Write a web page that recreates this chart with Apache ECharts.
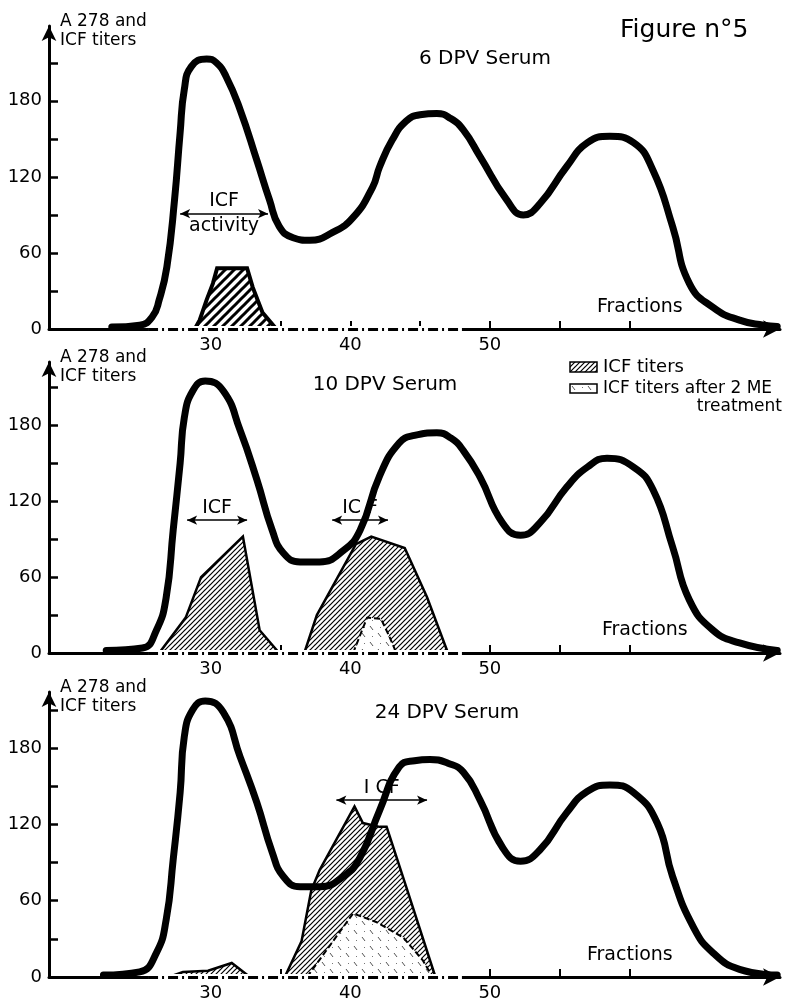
<!DOCTYPE html>
<html>
<head>
<meta charset="utf-8">
<script src="https://cdn.jsdelivr.net/npm/echarts@6/dist/echarts.min.js"></script>
<style>
  html, body { margin: 0; padding: 0; background: #fff; }
  #chart { width: 791px; height: 1002px; }
</style>
</head>
<body>
<div id="chart"></div>
<script>
// ---- axes ----
const fractionMin = 18.4;
const fractionMax = 70.8;
const fractionTicks = [30, 35, 40, 45, 50, 55, 60];
const fractionLabels = [30, 40, 50];
const titerTicks = [0, 30, 60, 90, 120, 150, 180, 210];
const titerLabels = [0, 60, 120, 180];
const titerMax = [239, 230, 224];
// fractions where ICF was assayed (drawn dash-dot on the baseline)
const icfTestedRange = [25.5, 48];

const panelTitles = ['6 DPV Serum', '10 DPV Serum', '24 DPV Serum'];

// ---- A 278 elution profiles [fraction, value] ----
const a278Day6 = [[22.9,1.5],[24.9,3],[25.8,9.5],[26.3,23],[26.85,49],[27.4,102],[27.8,155],[28.1,189],[28.6,207],[29.7,213],[30.4,210],[31.1,199],[32.1,173],[33.3,133],[34.2,102],[34.9,81],[35.9,72],[37.1,70],[38.7,76],[40.2,88],[41.6,112],[42.1,128],[43.0,149],[44.0,164],[45.0,169],[46.2,170],[47.2,166],[48.1,157],[49.3,136],[51.2,102],[52.4,90],[53.6,99],[55.5,128],[57.0,147],[58.6,152],[60.3,147],[61.7,125],[63.1,81],[64.3,36],[66.0,17],[67.9,7],[69.6,3],[70.6,2]];
const a278Day10 = [[22.5,2],[25.1,4],[26.1,18],[26.8,44],[27.3,97],[27.8,150],[28.1,186],[28.7,207],[29.6,215],[30.9,207],[32.1,176],[33.3,137],[34.4,97],[35.2,79],[36.4,72],[37.8,72],[39.5,81],[40.7,97],[42.1,140],[43.5,166],[44.6,172],[46.2,174],[47.2,170],[48.1,160],[49.3,139],[50.9,103],[52.2,93],[53.6,103],[55.5,131],[57.0,147],[58.4,154],[60.3,147],[61.7,129],[63.1,84],[64.3,42],[66.0,18],[67.9,8],[70.6,2]];
const a278Day24 = [[22.3,1.5],[24.9,4],[26.1,19],[26.8,45],[27.3,92],[27.8,145],[28.1,189],[28.7,210],[29.6,217],[30.9,208],[32.1,173],[33.3,137],[34.4,98],[35.2,79],[36.4,71],[37.8,71],[39.5,79],[40.7,94],[42.1,131],[43.5,165],[44.6,170],[45.7,171],[47.0,168],[48.1,161],[49.3,139],[50.9,102],[52.2,91],[53.6,100],[55.5,129],[57.0,146],[58.6,151],[60.3,145],[62.0,121],[63.1,79],[64.6,39],[66.0,19],[67.9,6],[70.6,1.5]];

// ---- ICF titers ----
const icfDay6 = [[28.85,0],[29.2,7],[29.7,23],[30.15,36],[30.45,48],[32.6,48],[33.0,33],[33.7,13],[34.7,0]];
const icfDay10 = [[26.3,0],[28.2,28],[29.3,60],[32.3,92],[33.5,18],[34.9,0],[35.8,'-'],[36.7,0],[37.6,30],[40.4,86],[41.5,92],[43.9,83],[45.5,44],[47.0,0]];
const icfDay24 = [[27.0,0],[28.0,4],[29.8,5],[31.5,11],[32.8,0],[34.0,'-'],[35.3,0],[36.5,28],[37.2,68],[37.8,84],[40.3,134],[40.9,121],[42.1,118],[42.6,118],[44.0,71],[46.1,0]];

// ---- ICF titers after 2 ME treatment ----
const icfMeDay10 = [[40.2,0],[41.2,28],[42.2,27],[42.8,13],[43.3,0]];
const icfMeDay24 = [[36.9,0],[40.2,50],[41.9,43],[43.8,31],[45.2,13],[45.9,0]];

// ---- ICF activity ranges [from, to, level, label above, label below] ----
const icfRangesDay6 = [[27.8, 34.1, 91, 'ICF', 'activity']];
const icfRangesDay10 = [[28.3, 32.6, 105, 'ICF', ''], [38.7, 42.7, 105, 'IC F', '']];
const icfRangesDay24 = [[39.0, 45.5, 139, 'I CF', '']];

const FONT = "'DejaVu Sans', sans-serif";

// diagonal hatch fill
function hatch(size, width) {
  const c = document.createElement('canvas');
  c.width = size; c.height = size;
  const g = c.getContext('2d');
  g.fillStyle = '#fff';
  g.fillRect(0, 0, size, size);
  g.strokeStyle = '#000';
  g.lineWidth = width;
  g.lineCap = 'square';
  for (let k = -1; k <= 1; k++) {
    g.beginPath();
    g.moveTo(k * size, size);
    g.lineTo(k * size + size, 0);
    g.stroke();
  }
  return { image: c, repeat: 'repeat' };
}
// sparse stipple fill
function stipple() {
  const s = 16;
  const c = document.createElement('canvas');
  c.width = s; c.height = s;
  const g = c.getContext('2d');
  g.fillStyle = '#fff';
  g.fillRect(0, 0, s, s);
  g.strokeStyle = '#555';
  g.lineWidth = 1;
  g.beginPath();
  g.moveTo(2, 2); g.lineTo(5, 6);
  g.moveTo(10, 9); g.lineTo(13, 13);
  g.stroke();
  g.fillStyle = '#777';
  g.fillRect(12, 3, 1, 1);
  g.fillRect(4, 12, 1, 1);
  return { image: c, repeat: 'repeat' };
}
const hatchBold = hatch(9, 3);
const hatchFine = hatch(5, 1.2);
const meFill = stipple();

const panels = [
  { top: 26, height: 303, curve: a278Day6, icf: icfDay6, me: null, ranges: icfRangesDay6, hatch: hatchBold, icfWidth: 4 },
  { top: 362, height: 291, curve: a278Day10, icf: icfDay10, me: icfMeDay10, ranges: icfRangesDay10, hatch: hatchFine, icfWidth: 2.5 },
  { top: 692, height: 285, curve: a278Day24, icf: icfDay24, me: icfMeDay24, ranges: icfRangesDay24, hatch: hatchFine, icfWidth: 2.5 }
];

const grid = [], xAxis = [], yAxis = [], series = [];

panels.forEach((p, i) => {
  grid.push({ left: 49, right: 11, top: p.top, height: p.height });
  xAxis.push({
    type: 'value', gridIndex: i, min: fractionMin, max: fractionMax,
    splitLine: { show: false },
    axisLine: { show: true, onZero: false, lineStyle: { color: '#000', width: 3 }, symbol: ['none', 'arrow'], symbolSize: [13, 17] },
    axisTick: { show: true, inside: true, length: 8, lineStyle: { color: '#000', width: 2 }, customValues: fractionTicks },
    axisLabel: { color: '#000', fontSize: 18, fontFamily: FONT, margin: 7, customValues: fractionLabels }
  });
  yAxis.push({
    type: 'value', gridIndex: i, min: 0, max: titerMax[i],
    name: 'A 278 and\nICF titers', nameLocation: 'end', nameGap: -5,
    nameTextStyle: { color: '#000', fontSize: 17, fontFamily: FONT, align: 'left', verticalAlign: 'middle', lineHeight: 19, padding: [0, 0, 0, 11] },
    splitLine: { show: false },
    axisLine: { show: true, onZero: false, lineStyle: { color: '#000', width: 3 }, symbol: ['none', 'arrow'], symbolSize: [11, 15] },
    axisTick: { show: true, inside: true, length: 9, lineStyle: { color: '#000', width: 2.5 }, customValues: titerTicks },
    axisLabel: { color: '#000', fontSize: 18, fontFamily: FONT, margin: 7, customValues: titerLabels }
  });

  // assayed fractions: dash-dot stretch of the baseline
  series.push({
    type: 'line', xAxisIndex: i, yAxisIndex: i, data: [], z: 2, silent: true,
    markLine: {
      silent: true, animation: false, symbol: 'none', label: { show: false },
      data: [
        [{ coord: [icfTestedRange[0], 0], lineStyle: { color: '#fff', width: 6, type: 'solid' } }, { coord: [icfTestedRange[1], 0] }],
        [{ coord: [icfTestedRange[0], 0], lineStyle: { color: '#000', width: 3, type: [10, 4, 2, 4] } }, { coord: [icfTestedRange[1], 0] }]
      ]
    }
  });

  series.push({
    name: 'ICF titers', type: 'line', xAxisIndex: i, yAxisIndex: i, data: p.icf,
    showSymbol: false, smooth: false, connectNulls: false, z: 3,
    lineStyle: { color: '#000', width: p.icfWidth, join: 'miter' },
    areaStyle: { color: p.hatch, opacity: 1, origin: 0 }
  });

  if (p.me) {
    series.push({
      name: 'ICF titers after 2 ME treatment', type: 'line', xAxisIndex: i, yAxisIndex: i, data: p.me,
      showSymbol: false, smooth: false, z: 4,
      lineStyle: { color: '#000', width: 2, type: [6, 3] },
      areaStyle: { color: meFill, opacity: 1, origin: 0 }
    });
  }

  // ICF activity ranges
  const rangeLines = [];
  p.ranges.forEach(r => {
    rangeLines.push([
      { coord: [r[0], r[2]], label: { show: true, formatter: r[3], position: 'insideMiddleTop', distance: 3 } },
      { coord: [r[1], r[2]] }
    ]);
    if (r[4]) {
      rangeLines.push([
        { coord: [r[0], r[2]], symbol: 'none', lineStyle: { color: 'rgba(255,255,255,0)', width: 0 },
          label: { show: true, color: '#000', formatter: r[4], position: 'insideMiddleBottom', distance: 3 } },
        { coord: [r[1], r[2]], symbol: 'none' }
      ]);
    }
  });
  series.push({
    type: 'line', xAxisIndex: i, yAxisIndex: i, data: [], z: 4, silent: true,
    markLine: {
      silent: true, animation: false, symbol: ['arrow', 'arrow'], symbolSize: [7, 10],
      lineStyle: { color: '#000', width: 1.5, type: 'solid' },
      label: { color: '#000', fontSize: 19, fontFamily: FONT },
      data: rangeLines
    }
  });

  series.push({
    name: 'A 278', type: 'line', xAxisIndex: i, yAxisIndex: i, data: p.curve,
    showSymbol: false, smooth: 0.5, z: 5,
    lineStyle: { color: '#000', width: 7, cap: 'round', join: 'round' }
  });
});

const txt = (x, y, text, size, align) => ({
  type: 'text', x, y, silent: true,
  style: { text, fill: '#000', fontSize: size, fontFamily: FONT, align: align || 'left', verticalAlign: 'middle' }
});

const graphic = [
  txt(620, 30, 'Figure n°5', 25),
  txt(485, 59, panelTitles[0], 20, 'center'),
  txt(385, 385, panelTitles[1], 20, 'center'),
  txt(447, 713, panelTitles[2], 20, 'center'),
  txt(597, 307, 'Fractions', 19),
  txt(602, 630, 'Fractions', 19),
  txt(587, 955, 'Fractions', 19),
  { type: 'rect', x: 570, y: 362, shape: { width: 27, height: 10 }, silent: true, style: { fill: hatchFine, stroke: '#000', lineWidth: 1.5 } },
  txt(603, 367, 'ICF titers', 18),
  { type: 'rect', x: 570, y: 384, shape: { width: 27, height: 9 }, silent: true, style: { fill: meFill, stroke: '#000', lineWidth: 1.5 } },
  txt(603, 389, 'ICF titers after 2 ME', 17),
  txt(782, 407, 'treatment', 17, 'right')
];

const chart = echarts.init(document.getElementById('chart'), null, { renderer: 'canvas' });
chart.setOption({
  backgroundColor: '#fff',
  animation: false,
  textStyle: { fontFamily: FONT },
  grid, xAxis, yAxis, series, graphic
});
</script>
</body>
</html>
